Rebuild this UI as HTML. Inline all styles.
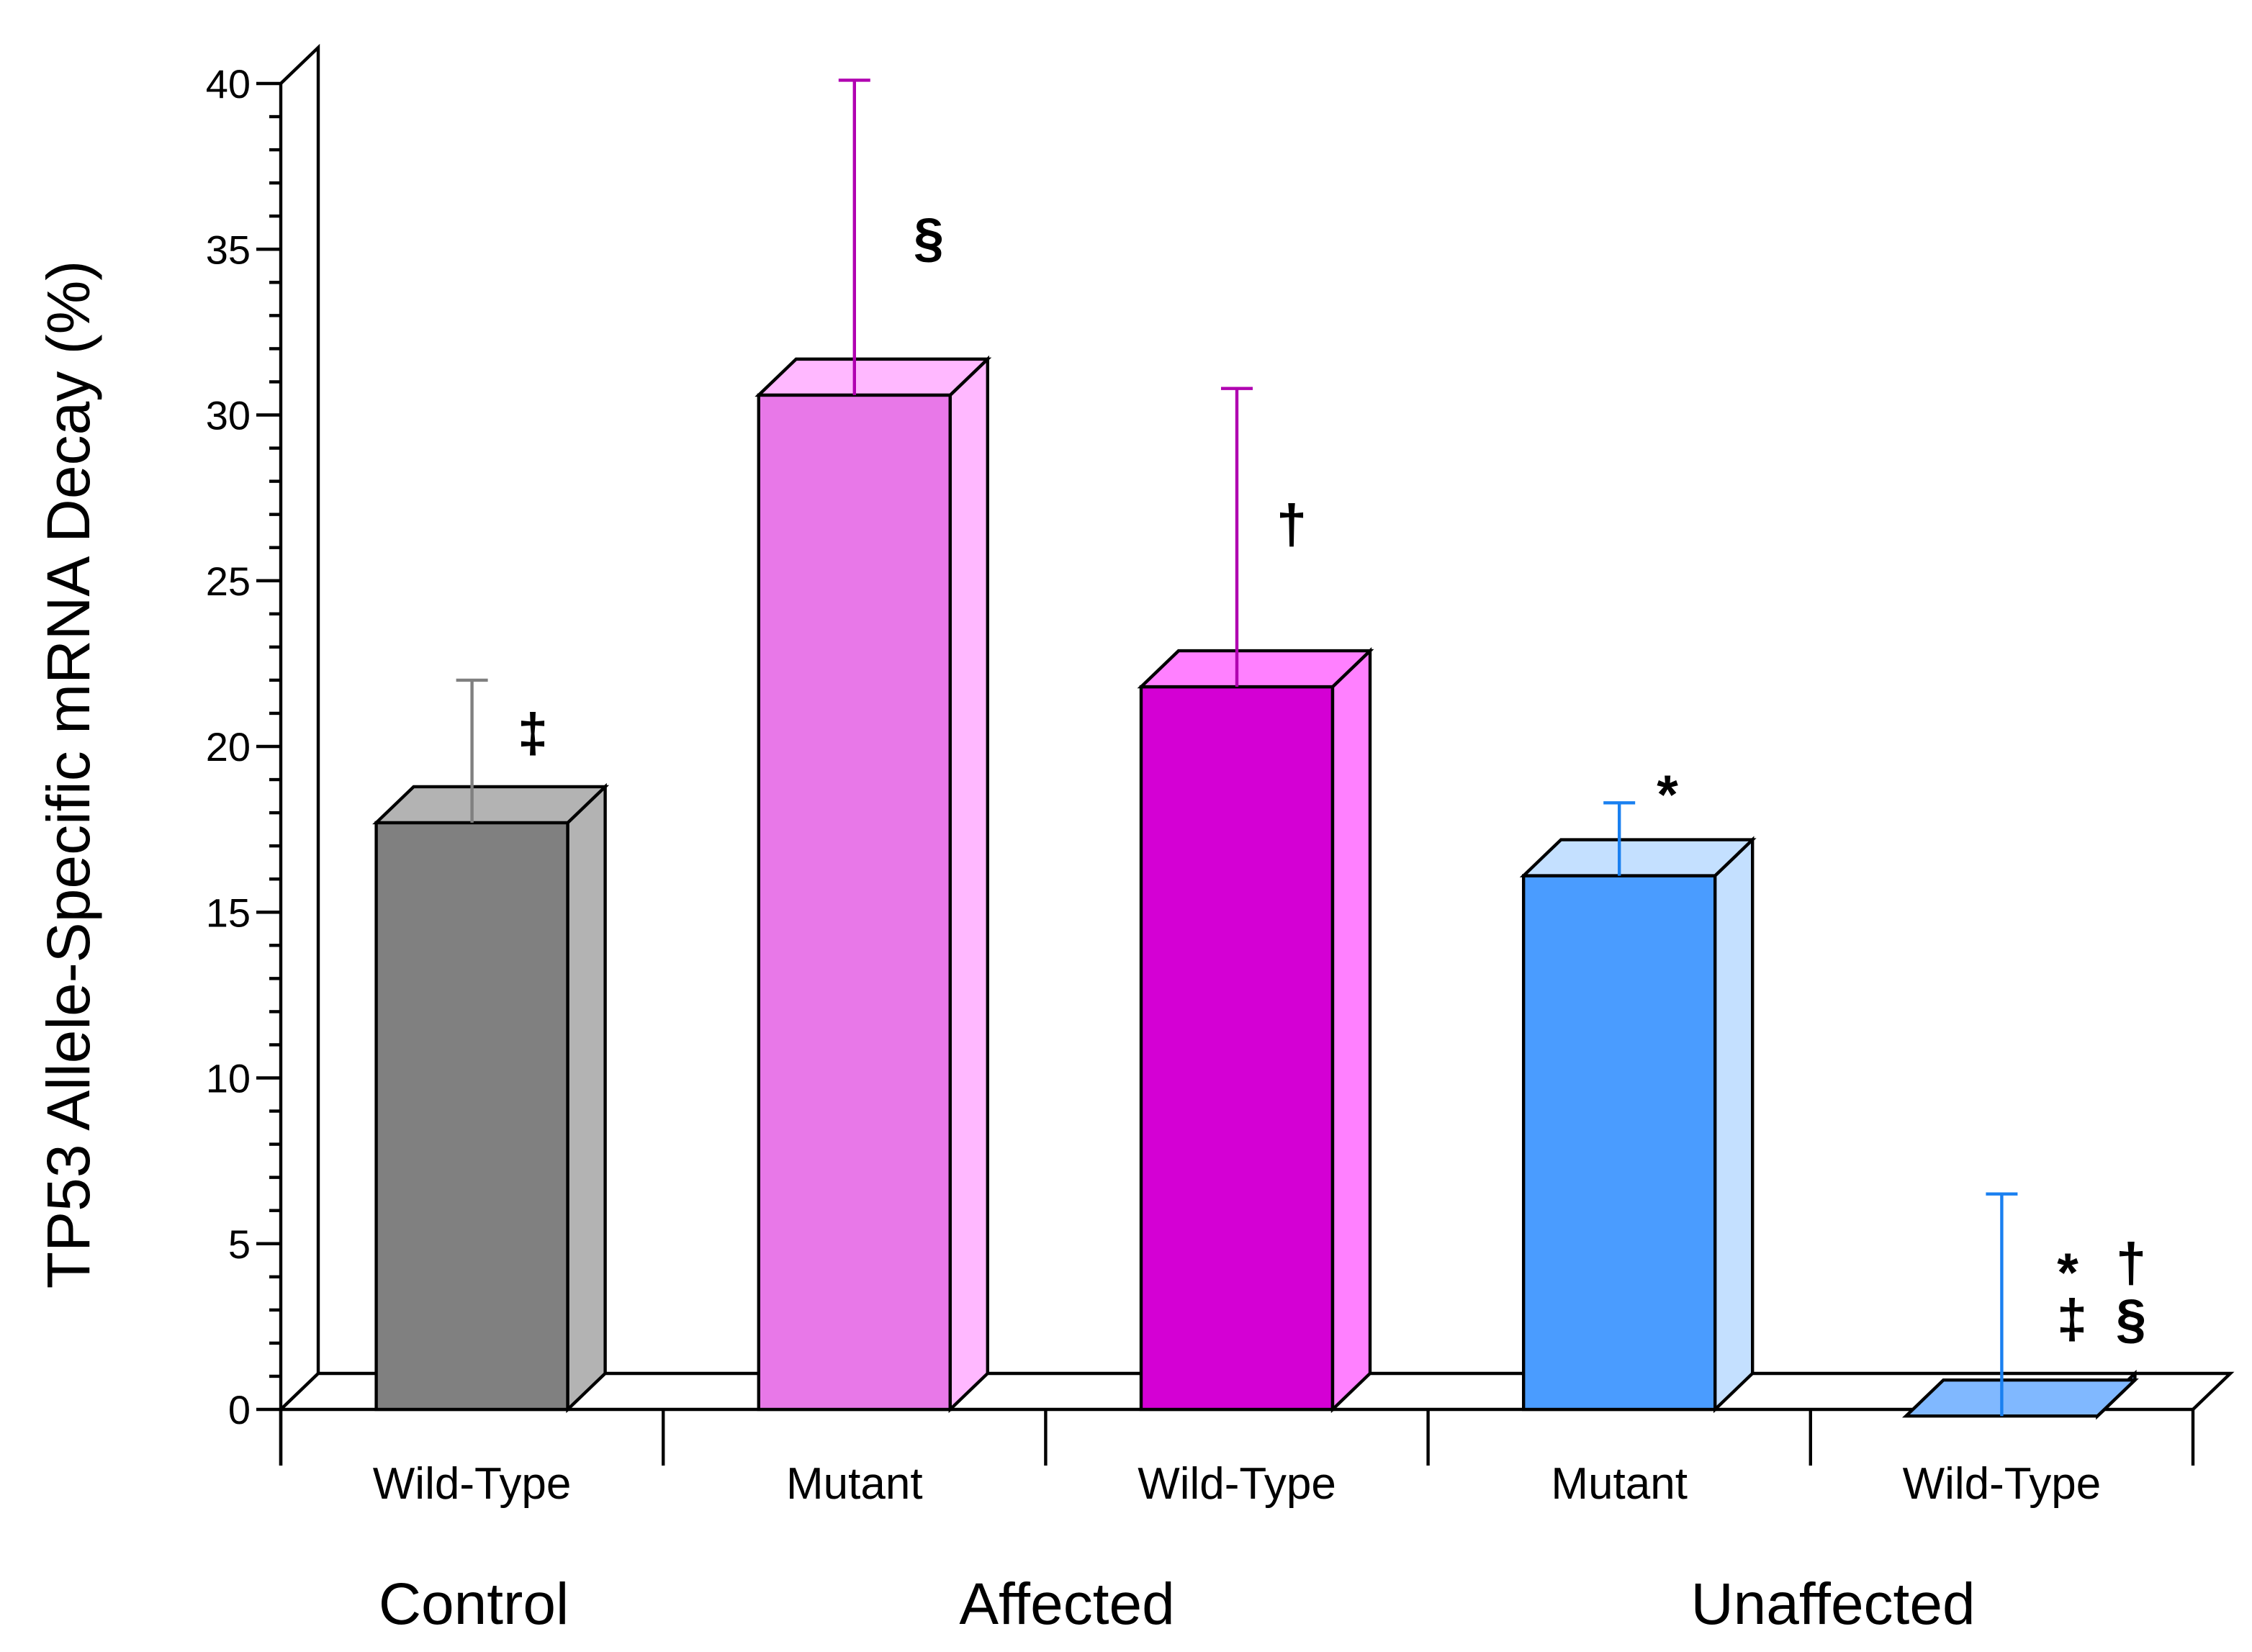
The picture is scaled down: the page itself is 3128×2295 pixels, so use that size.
<!DOCTYPE html>
<html><head><meta charset="utf-8"><style>html,body{margin:0;padding:0;background:#fff}svg{display:block}</style></head>
<body>
<svg id="chart" width="3128" height="2295" viewBox="0 0 1564 1147.5" xmlns="http://www.w3.org/2000/svg" font-family="'Liberation Sans', sans-serif">
<g id="axes"></g>
<g id="bars"></g>
<text transform="translate(62,538) rotate(-90)" text-anchor="middle" font-size="42">TP53 Allele-Specific mRNA Decay (%)</text>
<text x="329" y="1128" text-anchor="middle" font-size="41">Control</text>
<text x="741" y="1128" text-anchor="middle" font-size="41">Affected</text>
<text x="1273" y="1128" text-anchor="middle" font-size="41">Unaffected</text>
</svg>
<script>
const categories = ["Wild-Type","Mutant","Wild-Type","Mutant","Wild-Type"];
const values = [17.7, 30.6, 21.8, 16.1, -0.2];
const errTops = [22.0, 40.1, 30.8, 18.3, 6.5];
const yTicks = [0,5,10,15,20,25,30,35,40];
const marks = ["‡","§","†","*"];

const NS="http://www.w3.org/2000/svg";
const X0=195, XEND=1523, DX=26, DY=25;
const y = v => 979 - v*(979-58)/40;
const slotW = (XEND-X0)/categories.length;
const frontFill=["#808080","#e878e8","#d400d4","#4a9cff","#80b8ff"];
const sideFill=["#b3b3b3","#ffb8ff","#ff80ff","#c4e0ff","#80b8ff"];
const errColor=["#808080","#b000b0","#b000b0","#1a80f0","#1a80f0"];
function mk(tag,attrs,parent){const e=document.createElementNS(NS,tag);for(const k in attrs)e.setAttribute(k,attrs[k]);parent.appendChild(e);return e;}
const axes=document.getElementById('axes'), bars=document.getElementById('bars');
const S={stroke:"#000","stroke-width":2.2,fill:"none"};
let p=mk('path',Object.assign({d:`M${X0},${y(0)} L${X0+DX},${y(0)-DY} L${XEND+DX},${y(0)-DY} L${XEND},${y(0)}`},S),axes);

p=mk('path',Object.assign({d:`M${X0},${y(40)} L${X0+DX},${y(40)-DY} L${X0+DX},${y(0)-DY}`},S),axes);

p=mk('line',Object.assign({x1:X0,y1:y(40),x2:X0,y2:1018},S),axes);

p=mk('line',Object.assign({x1:X0,y1:y(0),x2:XEND,y2:y(0)},S),axes);

for(let v=0;v<=40;v++){
  const major=v%5===0;
  const t=mk('line',Object.assign({x1:X0-(major?17:8),y1:y(v),x2:X0,y2:y(v)},S),axes);
  
  
}
yTicks.forEach(v=>{
  const t=mk('text',{x:X0-21,y:y(v)+10,"text-anchor":"end","font-size":28},axes);t.textContent=v;
  
  
});
for(let i=0;i<=categories.length;i++){
  const t=mk('line',Object.assign({x1:X0+i*slotW,y1:y(0),x2:X0+i*slotW,y2:1018},S),axes);
  
  
}
categories.forEach((c,i)=>{
  const cx=X0+(i+0.5)*slotW;
  const t=mk('text',{x:cx,y:1041,"text-anchor":"middle","font-size":31},axes);t.textContent=c;
  
  
  const v=values[i], w=133, x1=cx-w/2, x2=cx+w/2, yt=y(v), yb=y(0);
  const g=mk('g',{},bars);
  
  
  if(Math.abs(yb-yt)>2){
    mk('rect',{x:x1,y:yt,width:w,height:yb-yt,fill:frontFill[i],stroke:"#000","stroke-width":2.2},g);
    mk('path',{d:`M${x2},${yt} L${x2+DX},${yt-DY} L${x2+DX},${yb-DY} L${x2},${yb}Z`,fill:sideFill[i],stroke:"#000","stroke-width":2.2},g);
  }
  mk('path',{d:`M${x1},${yt} L${x1+DX},${yt-DY} L${x2+DX},${yt-DY} L${x2},${yt}Z`,fill:sideFill[i],stroke:"#000","stroke-width":2.2},g);
  const eb=mk('path',{d:`M${cx},${yt} L${cx},${y(errTops[i])} M${cx-11},${y(errTops[i])} L${cx+11},${y(errTops[i])}`,stroke:errColor[i],"stroke-width":2.2,fill:"none"},bars);
  
  
});
const markPos=[[370,522],[645,178],[897,377],[1158,565]];
markPos.forEach((pp,i)=>{
  const t=mk('text',{x:pp[0],y:pp[1],"text-anchor":"middle","font-size":38,"font-weight":"bold"},bars);t.textContent=marks[i];
  
  
});
[["*",1436,897],["†",1480,890],["‡",1439,929],["§",1480,929]].forEach(m=>{
  const t=mk('text',{x:m[1],y:m[2],"text-anchor":"middle","font-size":38,"font-weight":"bold"},bars);t.textContent=m[0];
  
  
});
</script>
</body></html>
